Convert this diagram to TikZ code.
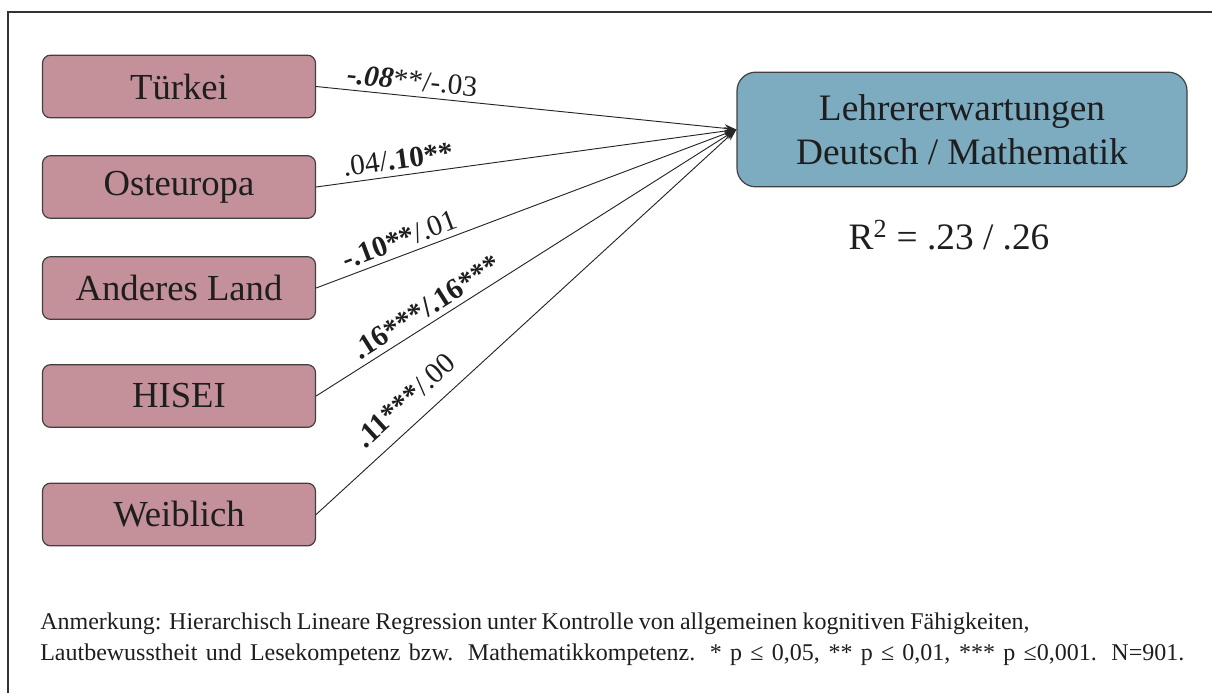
\documentclass[tikz,border=0pt]{standalone}
\usepackage{fontspec}
\setmainfont{Liberation Serif}
\usetikzlibrary{arrows.meta}
\definecolor{pinkbox}{RGB}{196,144,153}
\definecolor{bluebox}{RGB}{125,171,192}
\definecolor{edgegray}{RGB}{64,64,64}
\definecolor{txt}{RGB}{30,30,30}
\begin{document}
\begin{tikzpicture}[x=0.75pt,y=-0.75pt,
  pred/.style={draw=edgegray, line width=0.9pt, fill=pinkbox, rounded corners=6pt,
    minimum width=204.75pt, minimum height=47pt, inner sep=0pt, text=txt,
    font=\fontsize{27.5}{30}\selectfont},
  outc/.style={draw=edgegray, line width=0.9pt, fill=bluebox, rounded corners=14pt,
    minimum width=337.5pt, minimum height=86pt, inner sep=0pt, text=txt, align=center,
    font=\fontsize{28}{33}\selectfont},
  conn/.style={draw=black!85, line width=0.7pt, -{Stealth[length=9pt,width=6pt]}},
  lbl/.style={sloped, inner sep=0pt, above=4pt, text=txt, font=\fontsize{22}{24}\selectfont},
  plain/.style={text=txt, inner sep=0pt}]
\useasboundingbox (0,0) rectangle (1212,693);
\draw[line width=1.2pt, black!80] (8,693) -- (8,12) -- (1212,12);

\node[pred] (t) at (179,86.5) {Türkei};
\node[pred] (o) at (179,187) {Osteuropa};
\node[pred] (a) at (179,288) {Anderes Land};
\node[pred] (h) at (179,396) {HISEI};
\node[pred] (w) at (179,514.5) {Weiblich};

\node[outc] (le) at (962,129.5) {Lehrererwartungen\\Deutsch / Mathematik};
\node[plain, font=\fontsize{28}{30}\selectfont] (r2) at (949,235) {R\textsuperscript{2} = .23 / .26};

\draw[conn] (t.east) -- node[lbl, pos=0.225] {\textbf{\textit{-.08}}**/-.03} (le.west);
\draw[conn] (o.east) -- node[lbl, pos=0.2] {.04/\textbf{.10**}} (le.west);
\draw[conn] (a.east) -- node[lbl, pos=0.212] {\textbf{-.10**}/.01} (le.west);
\draw[conn] (h.east) -- node[lbl, pos=0.283] {\textbf{.16***/.16***}} (le.west);
\draw[conn] (w.east) -- node[lbl, pos=0.25, above=6pt] {\textbf{.11***}/.00} (le.west);

\node[plain, anchor=base west, font=\fontsize{18}{20}\selectfont] (n1) at (40,629)
  {\makebox[742pt][s]{Anmerkung: Hierarchisch Lineare Regression unter Kontrolle von allgemeinen kognitiven Fähigkeiten,}};
\node[plain, anchor=base west, font=\fontsize{18}{20}\selectfont] (n2) at (40,660)
  {\makebox[858pt][s]{Lautbewusstheit und Lesekompetenz bzw. Mathematikkompetenz. * p ≤ 0,05, ** p ≤ 0,01, *** p ≤0,001. N=901.}};
\end{tikzpicture}
\end{document}
